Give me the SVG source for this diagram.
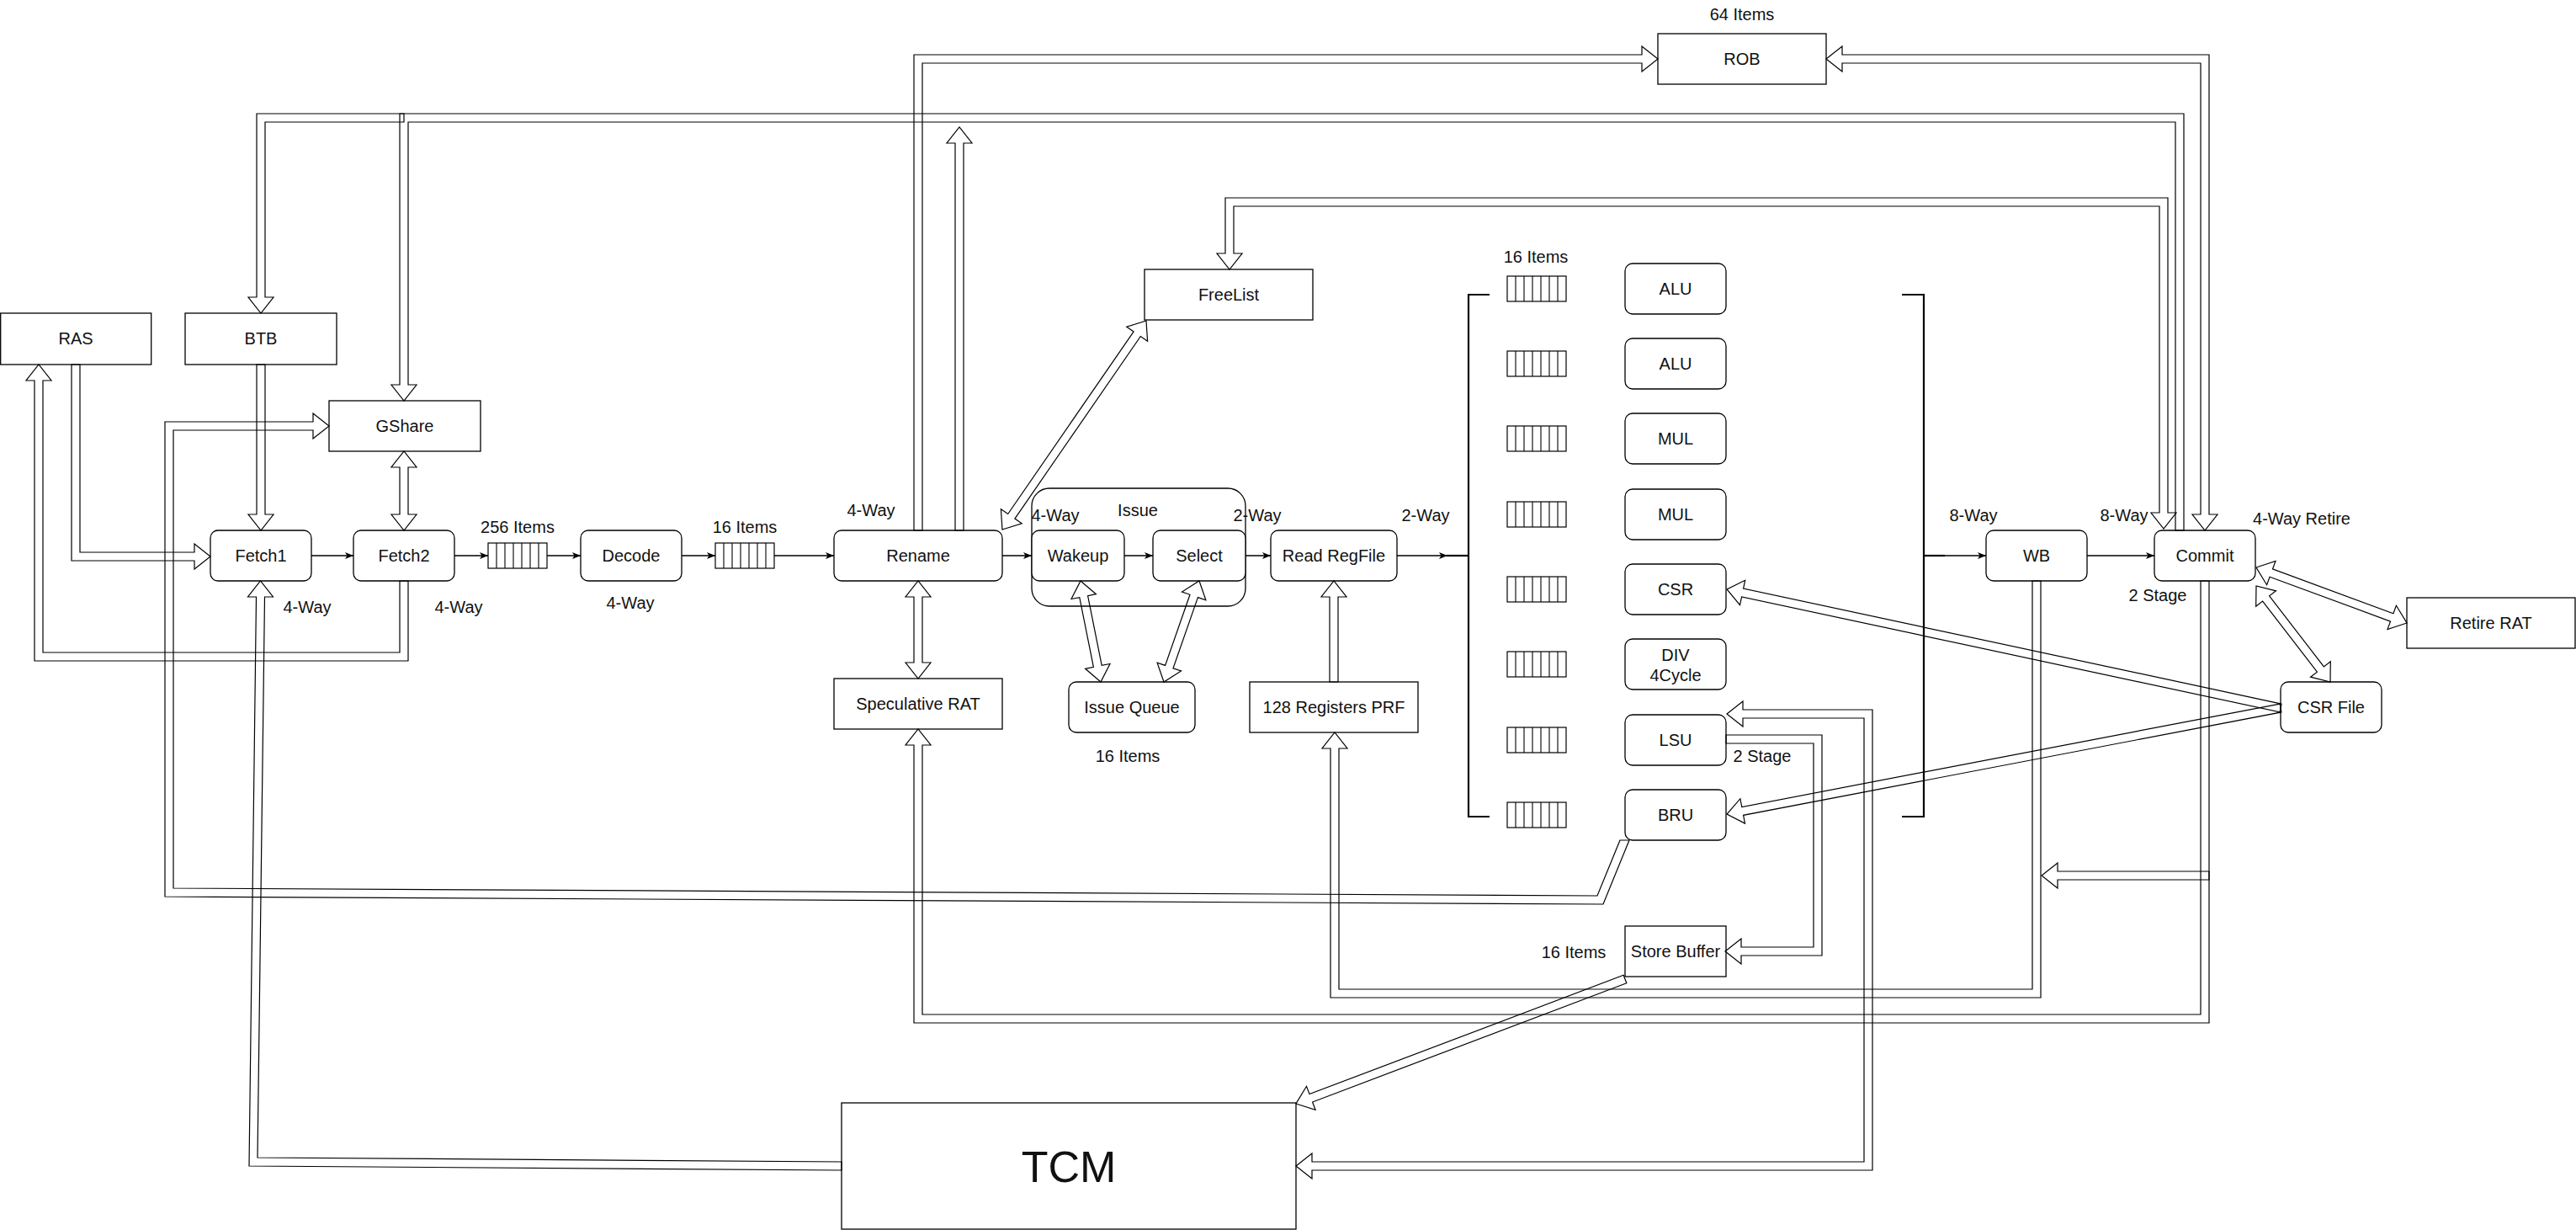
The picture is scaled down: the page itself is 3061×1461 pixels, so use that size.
<svg xmlns="http://www.w3.org/2000/svg" width="3061" height="1461" viewBox="0 0 3061 1461">
<style>
  .box{fill:#fff;stroke:#000;stroke-width:1.3}
  .q{fill:#fff;stroke:#000;stroke-width:1.2}
  .cell{stroke:#000;stroke-width:1.1}
  .t{font-family:"Liberation Sans",Arial,Helvetica,sans-serif;font-size:20px;fill:#111;text-anchor:middle}
  .big{font-size:52px}
  .flex path{fill:none;stroke:#000;stroke-width:1.2;stroke-linejoin:miter}
  .thin{fill:none;stroke:#000;stroke-width:1.5;marker-end:url(#ta)}
  .bar{fill:none;stroke:#000;stroke-width:2.2}
</style>
<defs>
  <marker id="ta" viewBox="0 0 12 10" markerWidth="12" markerHeight="10" refX="11" refY="5" orient="auto" markerUnits="userSpaceOnUse">
    <path d="M1,1 L11,5 L1,9 L3.5,5 Z" fill="#000"/>
  </marker>
  <!-- 7-slot queue -->
  <g id="queue">
    <rect class="q" x="0" y="0" width="70" height="30"/>
    <path class="cell" d="M10,0V30M20,0V30M30,0V30M40,0V30M50,0V30M60,0V30"/>
  </g>
</defs>
<rect width="3061" height="1461" fill="#fff"/>

<!-- front end -->
<g id="ras"><rect class="box" x="0.7" y="372" width="179" height="61"/><text class="t" x="90" y="409">RAS</text></g>
<g id="btb"><rect class="box" x="220" y="372" width="180" height="61"/><text class="t" x="310" y="409">BTB</text></g>
<g id="gshare"><rect class="box" x="391" y="476" width="180" height="60"/><text class="t" x="481" y="513">GShare</text></g>
<g id="fetch1"><rect class="box" x="250" y="630" width="120" height="60" rx="9"/><text class="t" x="310" y="667">Fetch1</text></g>
<g id="fetch2"><rect class="box" x="420" y="630" width="120" height="60" rx="9"/><text class="t" x="480" y="667">Fetch2</text></g>
<g id="fetch-queue"><use href="#queue" x="580" y="645"/><text class="t" x="615" y="633">256 Items</text></g>
<g id="decode"><rect class="box" x="690" y="630" width="120" height="60" rx="9"/><text class="t" x="750" y="667">Decode</text></g>
<g id="decode-queue"><use href="#queue" x="850" y="645"/><text class="t" x="885" y="633">16 Items</text></g>
<g id="rename"><rect class="box" x="991" y="630" width="200" height="60" rx="9"/><text class="t" x="1091" y="667">Rename</text></g>
<g id="freelist"><rect class="box" x="1360" y="320" width="200" height="60"/><text class="t" x="1460" y="357">FreeList</text></g>
<g id="rob"><rect class="box" x="1970" y="40" width="200" height="60"/><text class="t" x="2070" y="77">ROB</text><text class="t" x="2070" y="24">64 Items</text></g>
<g id="spec-rat"><rect class="box" x="991" y="806" width="200" height="60"/><text class="t" x="1091" y="843">Speculative RAT</text></g>

<!-- issue stage -->
<g id="issue">
  <rect class="box" x="1226" y="580" width="254" height="140" rx="21"/>
  <text class="t" x="1352" y="613">Issue</text>
</g>
<g id="wakeup"><rect class="box" x="1226" y="630" width="110" height="60" rx="9"/><text class="t" x="1281" y="667">Wakeup</text></g>
<g id="select"><rect class="box" x="1370" y="630" width="110" height="60" rx="9"/><text class="t" x="1425" y="667">Select</text></g>
<g id="issue-queue"><rect class="box" x="1270" y="810" width="150" height="60" rx="9"/><text class="t" x="1345" y="847">Issue Queue</text><text class="t" x="1340" y="905">16 Items</text></g>
<g id="read-regfile"><rect class="box" x="1510" y="630" width="150" height="60" rx="9"/><text class="t" x="1585" y="667">Read RegFile</text></g>
<g id="prf"><rect class="box" x="1485" y="810" width="200" height="60"/><text class="t" x="1585" y="847">128 Registers PRF</text></g>

<!-- execution units with their queues -->
<g id="fu-queues">
  <text class="t" x="1825" y="312">16 Items</text>
  <use href="#queue" x="1791" y="328"/>
  <use href="#queue" x="1791" y="417"/>
  <use href="#queue" x="1791" y="506"/>
  <use href="#queue" x="1791" y="596"/>
  <use href="#queue" x="1791" y="685"/>
  <use href="#queue" x="1791" y="774"/>
  <use href="#queue" x="1791" y="864"/>
  <use href="#queue" x="1791" y="953"/>
</g>
<g id="alu0"><rect class="box" x="1931" y="313" width="120" height="60" rx="9"/><text class="t" x="1991" y="350">ALU</text></g>
<g id="alu1"><rect class="box" x="1931" y="402" width="120" height="60" rx="9"/><text class="t" x="1991" y="439">ALU</text></g>
<g id="mul0"><rect class="box" x="1931" y="491" width="120" height="60" rx="9"/><text class="t" x="1991" y="528">MUL</text></g>
<g id="mul1"><rect class="box" x="1931" y="581" width="120" height="60" rx="9"/><text class="t" x="1991" y="618">MUL</text></g>
<g id="csr"><rect class="box" x="1931" y="670" width="120" height="60" rx="9"/><text class="t" x="1991" y="707">CSR</text></g>
<g id="div"><rect class="box" x="1931" y="759" width="120" height="60" rx="9"/><text class="t" x="1991" y="785">DIV</text><text class="t" x="1991" y="809">4Cycle</text></g>
<g id="lsu"><rect class="box" x="1931" y="849" width="120" height="60" rx="9"/><text class="t" x="1991" y="886">LSU</text><text class="t" x="2094" y="905">2 Stage</text></g>
<g id="bru"><rect class="box" x="1931" y="938" width="120" height="60" rx="9"/><text class="t" x="1991" y="975">BRU</text></g>
<g id="store-buffer"><rect class="box" x="1931" y="1100" width="120" height="60"/><text class="t" x="1991" y="1137">Store Buffer</text><text class="t" x="1870" y="1138">16 Items</text></g>
<g id="tcm"><rect class="box" x="1000" y="1310" width="540" height="150"/><text class="t big" x="1270" y="1404">TCM</text></g>

<!-- back end -->
<g id="wb"><rect class="box" x="2360" y="630" width="120" height="60" rx="9"/><text class="t" x="2420" y="667">WB</text></g>
<g id="commit"><rect class="box" x="2560" y="630" width="120" height="60" rx="9"/><text class="t" x="2620" y="667">Commit</text><text class="t" x="2564" y="714">2 Stage</text></g>
<g id="retire-rat"><rect class="box" x="2860" y="710" width="200" height="60"/><text class="t" x="2960" y="747">Retire RAT</text></g>
<g id="csr-file"><rect class="box" x="2710" y="810" width="120" height="60" rx="9"/><text class="t" x="2770" y="847">CSR File</text></g>

<!-- width annotations -->
<g id="labels">
  <text class="t" x="365" y="728">4-Way</text>
  <text class="t" x="545" y="728">4-Way</text>
  <text class="t" x="749" y="723">4-Way</text>
  <text class="t" x="1035" y="613">4-Way</text>
  <text class="t" x="1254" y="619">4-Way</text>
  <text class="t" x="1494" y="619">2-Way</text>
  <text class="t" x="1694" y="619">2-Way</text>
  <text class="t" x="2345" y="619">8-Way</text>
  <text class="t" x="2524" y="619">8-Way</text>
  <text class="t" x="2735" y="623">4-Way Retire</text>
</g>

<g id="connectors">
  <!-- pipeline flow -->
  <path class="thin" d="M370,660H420"/>
  <path class="thin" d="M540,660H580"/>
  <path class="thin" d="M650,660H690"/>
  <path class="thin" d="M810,660H850"/>
  <path class="thin" d="M920,660H991"/>
  <path class="thin" d="M1191,660H1226"/>
  <path class="thin" d="M1336,660H1370"/>
  <path class="thin" d="M1480,660H1510"/>
  <path class="thin" d="M1660,660H1720"/>
  <path class="bar" d="M1719,660H1745"/>
  <path class="bar" d="M2286,660H2311"/>
  <path class="thin" d="M2310,660H2360"/>
  <path class="thin" d="M2480,660H2560"/>
  <!-- dispatch brackets -->
  <path class="bar" d="M1770,350H1745V970H1770"/>
  <path class="bar" d="M2260,350H2286V970H2260"/>

  <!-- wide (bus) arrows -->
  <g class="flex">
    <path d="M2585,630V145H485V457H495L480,476L465,457H475V135H2595V630Z"/>
    <path d="M480,135H305V353H295L310,372L325,353H315V145H480Z"/>
    <path d="M2615,611V75H2189V85L2170,70L2189,55V65H2625V611H2635L2620,630L2605,611Z"/>
    <path d="M1086,630V65H1951V55L1970,70L1951,85V75H1096V630Z"/>
    <path d="M1135,630V170H1125L1140,151L1155,170H1145V630Z"/>
    <path d="M2566,609V245H1466V301H1476L1461,320L1446,301H1456V235H2576V609H2586L2571,628L2556,609Z"/>
    <path d="M1205.9,616.1L1355.3,399.5L1363.6,405.2L1362,381L1338.8,388.2L1347.1,393.9L1197.7,610.5L1189.4,604.8L1191,629L1214.2,621.8Z"/>
    <path d="M1086,709V787H1076L1091,806L1106,787H1096V709H1106L1091,690L1076,709Z"/>
    <path d="M2615,690V1205H1096V885H1106L1091,866L1076,885H1086V1215H2625V690Z"/>
    <path d="M2415,690V1175H1591V889H1601L1586,870L1571,889H1581V1185H2425V690Z"/>
    <path d="M1580,810V709H1570L1585,690L1600,709H1590V810Z"/>
    <path d="M1292.6,707.6L1309.2,790.4L1319,788.5L1308,810L1289.6,794.3L1299.4,792.4L1282.8,709.6L1273,711.5L1284,690L1302.4,705.7Z"/>
    <path d="M1423.4,709.6L1394,793.8L1403.5,797L1383,810L1375.1,787.1L1384.6,790.4L1414,706.3L1404.5,703L1425,690L1432.9,712.9Z"/>
    <path d="M475,555V611H465L480,630L495,611H485V555H495L480,536L465,555Z"/>
    <path d="M305,433V611H295L310,630L325,611H315V433Z"/>
    <path d="M95,433V656H231V646L250,661L231,676V666H85V433Z"/>
    <path d="M475,690V775H51V452H61L46,433L31,452H41V785H485V690Z"/>
    <path d="M1925,998L1898,1064L206,1055V511H372V521L391,506L372,491V501H196V1065L1905,1074L1936,998Z"/>
    <path d="M1000,1380L306,1375L314.5,709H324.5L309.5,690L294.5,709H304.5L296,1385L1000,1390Z"/>
    <path d="M2071,843H2225V1390H1559V1400L1540,1385L1559,1370V1380H2215V853H2071V863L2052,848L2071,833Z"/>
    <path d="M2051,873H2165V1135H2069V1145L2050,1130L2069,1115V1125H2155V883H2051Z"/>
    <path d="M1932.8,1167.7L1559.6,1309L1563.1,1318.3L1540,1311L1552.5,1290.3L1556,1299.6L1929.2,1158.3Z"/>
    <path d="M2711,836.1L2071.6,699.1L2073.7,689.3L2052,700L2067.5,718.7L2069.6,708.9L2709,845.9Z"/>
    <path d="M2709.1,836.1L2069.8,958.5L2067.9,948.7L2052,967L2073.5,978.1L2071.6,968.3L2710.9,845.9Z"/>
    <path d="M2697.1,685.3L2840.5,738.1L2837,747.5L2860,740L2847.4,719.3L2843.9,728.7L2700.5,675.9L2704,666.5L2681,674L2693.6,694.7Z"/>
    <path d="M2688.6,714.1L2753.4,798.1L2745.5,804.2L2769,810L2769.3,785.8L2761.4,791.9L2696.6,707.9L2704.5,701.8L2681,696L2680.7,720.2Z"/>
    <path d="M2625,1035H2445V1025L2426,1040L2445,1055V1045H2625Z"/>
  </g>
</g>
</svg>
